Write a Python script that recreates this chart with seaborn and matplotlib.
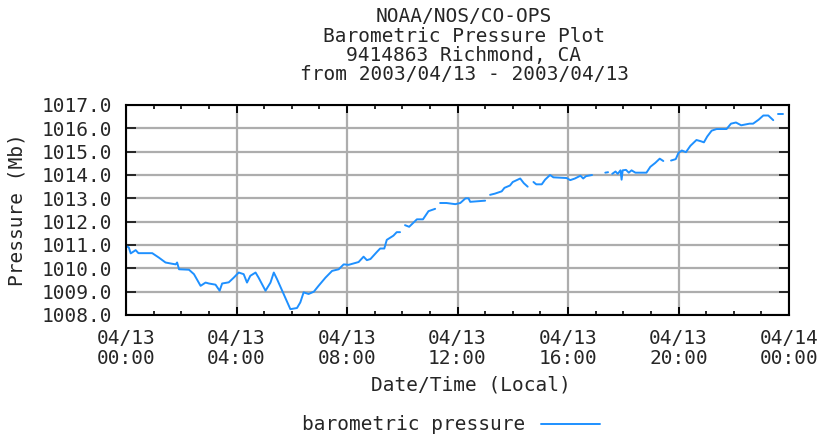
import pandas as pd
import seaborn as sns
import matplotlib.pyplot as plt
from matplotlib.lines import Line2D

# hours since 2003/04/13 00:00 local, pressure in mb, one list per unbroken piece of the record
seg_hours = [
    [0.0, 0.1, 0.17, 0.35, 0.45, 0.95, 1.19, 1.43, 1.65, 1.8, 1.85, 1.92, 2.28, 2.46, 2.7, 2.88,
     3.0, 3.24, 3.39, 3.48, 3.72, 3.9, 4.08, 4.26, 4.38, 4.5, 4.69, 4.8, 5.05, 5.23, 5.35, 5.47,
     5.71, 5.95, 6.19, 6.31, 6.43, 6.61, 6.8, 6.97, 7.22, 7.46, 7.7, 7.88, 8.06, 8.42, 8.6, 8.72,
     8.85, 9.08, 9.2, 9.35, 9.44, 9.68, 9.8, 9.92],
    [10.1, 10.25, 10.53, 10.75, 10.95, 11.19],
    [11.37, 11.6, 11.92, 12.1, 12.29, 12.4, 12.46, 13.0],
    [13.18, 13.35, 13.6, 13.7, 13.9, 14.0, 14.27, 14.4, 14.54],
    [14.75, 14.85, 15.05, 15.17, 15.35, 15.47, 15.95, 16.08, 16.25, 16.45, 16.55, 16.65, 16.87],
    [17.35, 17.45],
    [17.6, 17.72, 17.8, 17.9, 17.94, 17.98, 18.1, 18.2, 18.3, 18.44, 18.84, 18.98, 19.16, 19.32, 19.45],
    [19.73, 19.9, 20.0, 20.12, 20.27, 20.43, 20.65, 20.8, 20.92, 21.04, 21.2, 21.38, 21.74, 21.9,
     22.08, 22.27, 22.57, 22.7, 22.9, 23.07, 23.25, 23.43],
    [23.6, 23.8],
]
seg_pressure = [
    [1010.95, 1010.9, 1010.64, 1010.78, 1010.65, 1010.65, 1010.46, 1010.25, 1010.2, 1010.17, 1010.25,
     1009.96, 1009.94, 1009.75, 1009.25, 1009.39, 1009.35, 1009.3, 1009.04, 1009.35, 1009.4, 1009.6,
     1009.82, 1009.75, 1009.39, 1009.68, 1009.82, 1009.6, 1009.04, 1009.39, 1009.82, 1009.53, 1008.89,
     1008.25, 1008.3, 1008.54, 1008.97, 1008.9, 1009.0, 1009.25, 1009.6, 1009.89, 1009.96, 1010.17,
     1010.15, 1010.27, 1010.5, 1010.35, 1010.4, 1010.7, 1010.85, 1010.85, 1011.22, 1011.4, 1011.55,
     1011.55],
    [1011.85, 1011.78, 1012.1, 1012.1, 1012.45, 1012.55],
    [1012.8, 1012.8, 1012.75, 1012.8, 1013.0, 1013.0, 1012.85, 1012.9],
    [1013.15, 1013.2, 1013.3, 1013.45, 1013.55, 1013.7, 1013.85, 1013.65, 1013.5],
    [1013.7, 1013.6, 1013.6, 1013.8, 1014.0, 1013.9, 1013.87, 1013.78, 1013.85, 1013.97, 1013.85,
     1013.95, 1014.0],
    [1014.1, 1014.12],
    [1014.05, 1014.15, 1014.05, 1014.2, 1013.8, 1014.2, 1014.22, 1014.1, 1014.2, 1014.1, 1014.1,
     1014.35, 1014.52, 1014.7, 1014.6],
    [1014.62, 1014.68, 1014.95, 1015.05, 1014.98, 1015.25, 1015.5, 1015.45, 1015.4, 1015.65, 1015.9,
     1015.97, 1015.97, 1016.2, 1016.25, 1016.13, 1016.2, 1016.2, 1016.37, 1016.55, 1016.55, 1016.35],
    [1016.6, 1016.6],
]

x_ticks = [0, 4, 8, 12, 16, 20, 24]
x_labels = ["04/13\n00:00", "04/13\n04:00", "04/13\n08:00", "04/13\n12:00",
            "04/13\n16:00", "04/13\n20:00", "04/14\n00:00"]
y_ticks = [1008, 1009, 1010, 1011, 1012, 1013, 1014, 1015, 1016, 1017]
y_labels = ["1008.0", "1009.0", "1010.0", "1011.0", "1012.0", "1013.0",
            "1014.0", "1015.0", "1016.0", "1017.0"]
title_lines = ["NOAA/NOS/CO-OPS", "Barometric Pressure Plot",
               "9414863 Richmond, CA", "from 2003/04/13 - 2003/04/13"]

rows = []
for i, (hs, ps) in enumerate(zip(seg_hours, seg_pressure)):
    for h, p in zip(hs, ps):
        rows.append({"hour": h, "pressure": p, "seg": i})
df = pd.DataFrame(rows)

sns.set_style("white")
plt.rcParams['font.family'] = ['DejaVu Sans Mono', 'DejaVu Sans']
fs = 14
line_col = "#1e90ff"

fig = plt.figure(figsize=(8.21, 4.34), dpi=100)
ax = fig.add_axes([126 / 821, 1 - 315 / 434, 663 / 821, 210 / 434])

sns.lineplot(data=df, x="hour", y="pressure", units="seg", estimator=None,
             color=line_col, linewidth=1.4, ax=ax, legend=False)

ax.set_xlim(0, 24)
ax.set_ylim(1008, 1017)
ax.set_xticks(x_ticks)
ax.set_xticklabels(x_labels, fontsize=fs, linespacing=1.05)
ax.set_xticks(range(25), minor=True)
ax.set_yticks(y_ticks)
ax.set_yticklabels(y_labels, fontsize=fs)
ax.grid(True, which="major", color="#adadad", linewidth=1.6)
ax.set_axisbelow(True)

ax.tick_params(axis="x", which="major", direction="in", length=6, width=1.4,
               top=True, bottom=True, pad=10, color="black")
ax.tick_params(axis="x", which="minor", direction="in", length=3, width=1.4,
               top=True, bottom=True)
ax.tick_params(axis="y", which="major", direction="in", length=7, width=1.4,
               left=True, right=True, pad=10)
for sp in ax.spines.values():
    sp.set_color("black")
    sp.set_linewidth(1.5)

ax.set_xlabel("Date/Time (Local)", fontsize=fs)
ax.set_ylabel("Pressure (Mb)", fontsize=fs)
ax.xaxis.set_label_coords(0.52, -0.29)
ax.yaxis.set_label_coords(-0.15, 0.5)

title_y = [17, 37, 56, 75]
for txt, ty in zip(title_lines, title_y):
    fig.text(464 / 821, 1 - ty / 434, txt, ha="center", va="center", fontsize=fs)

handle = Line2D([], [], color=line_col, linewidth=1.4)
fig.legend([handle], ["barometric pressure"], loc="center",
           bbox_to_anchor=(451 / 821, 1 - 425 / 434), frameon=False,
           markerfirst=False, handlelength=3.0, fontsize=fs)

plt.savefig("out.png", dpi=100)
plt.close()
